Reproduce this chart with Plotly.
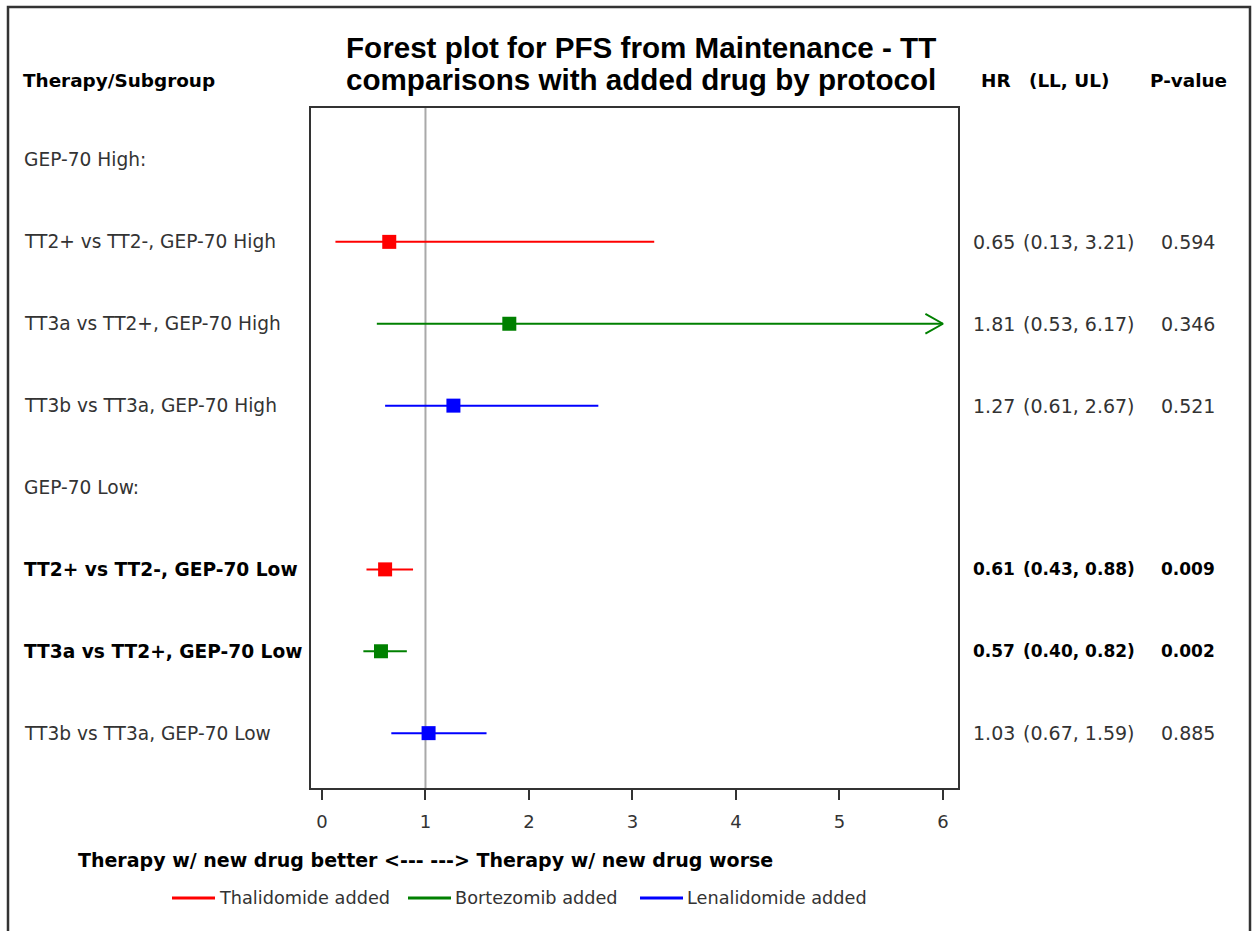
import plotly.graph_objects as go

# ---------------- data ----------------
row_labels = [
    "GEP-70 High:",
    "TT2+ vs TT2-, GEP-70 High",
    "TT3a vs TT2+, GEP-70 High",
    "TT3b vs TT3a, GEP-70 High",
    "GEP-70 Low:",
    "TT2+ vs TT2-, GEP-70 Low",
    "TT3a vs TT2+, GEP-70 Low",
    "TT3b vs TT3a, GEP-70 Low",
]
hr = [None, 0.65, 1.81, 1.27, None, 0.61, 0.57, 1.03]
ll = [None, 0.13, 0.53, 0.61, None, 0.43, 0.40, 0.67]
ul = [None, 3.21, 6.17, 2.67, None, 0.88, 0.82, 1.59]
pval = [None, "0.594", "0.346", "0.521", None, "0.009", "0.002", "0.885"]
drug = [None, "Thalidomide added", "Bortezomib added", "Lenalidomide added",
        None, "Thalidomide added", "Bortezomib added", "Lenalidomide added"]
bold = [False, False, False, False, False, True, True, False]
drugs = ["Thalidomide added", "Bortezomib added", "Lenalidomide added"]
drug_colors = {"Thalidomide added": "#FF0000", "Bortezomib added": "#008000",
               "Lenalidomide added": "#0000FF"}
x_ticks = [0, 1, 2, 3, 4, 5, 6]
x_max = 6

# ---------------- layout geometry ----------------
W, H = 1254, 931
PL, PR, PT, PB = 311, 958, 108, 788
pw, ph = PR - PL, PB - PT


def px(x):
    return (x - PL) / pw


def py(y):
    return (PB - y) / ph


FONT = "DejaVu Sans, Liberation Sans, Arial, sans-serif"
TFONT = "Liberation Sans, Arial, sans-serif"
rows = list(range(1, len(row_labels) + 1))

fig = go.Figure()

# reference line at HR = 1
fig.add_shape(type="line", xref="x", yref="paper", x0=1, x1=1, y0=0, y1=1,
              line=dict(color="#A9A9A9", width=2), layer="below")

for i, r in enumerate(rows):
    if hr[i] is None:
        continue
    c = drug_colors[drug[i]]
    hi = min(ul[i], x_max)
    fig.add_trace(go.Scatter(x=[ll[i], hi], y=[r, r], mode="lines",
                             line=dict(color=c, width=2), showlegend=False,
                             hoverinfo="skip"))
    if ul[i] > x_max:
        dx, dy = 0.17, 0.12
        fig.add_trace(go.Scatter(x=[x_max - dx, x_max, x_max - dx],
                                 y=[r - dy, r, r + dy], mode="lines",
                                 line=dict(color=c, width=2), showlegend=False,
                                 hoverinfo="skip"))
    fig.add_trace(go.Scatter(x=[hr[i]], y=[r], mode="markers",
                             marker=dict(symbol="square", size=14, color=c),
                             showlegend=False))

ann = []
shapes = []
# row labels and stats
for i, r in enumerate(rows):
    b = bold[i]
    col = "#000000" if b else "#333333"
    wrap = (lambda s: f"<b>{s}</b>") if b else (lambda s: s)
    rfs = 17 if b else 19
    ann.append(dict(x=px(22), y=r, xref="paper", yref="y", text=wrap(row_labels[i]),
                    showarrow=False, xanchor="left", yanchor="middle",
                    font=dict(size=18.6, color=col, family=FONT)))
    if hr[i] is None:
        continue
    ann.append(dict(x=px(971), y=r, xref="paper", yref="y", text=wrap(f"{hr[i]:.2f}"),
                    showarrow=False, xanchor="left", yanchor="middle",
                    font=dict(size=rfs, color=col, family=FONT)))
    ann.append(dict(x=px(1021), y=r, xref="paper", yref="y",
                    text=wrap(f"({ll[i]:.2f}, {ul[i]:.2f})"),
                    showarrow=False, xanchor="left", yanchor="middle",
                    font=dict(size=rfs, color=col, family=FONT)))
    ann.append(dict(x=px(1159), y=r, xref="paper", yref="y", text=wrap(pval[i]),
                    showarrow=False, xanchor="left", yanchor="middle",
                    font=dict(size=rfs, color=col, family=FONT)))

# headers
hdr_font = dict(size=18.4, color="#000000", family=FONT)
for txt, x in [("Therapy/Subgroup", 21), ("HR", 979), ("(LL, UL)", 1027), ("P-value", 1148)]:
    ann.append(dict(x=px(x), y=py(81), xref="paper", yref="paper", text=f"<b>{txt}</b>",
                    showarrow=False, xanchor="left", yanchor="middle", font=hdr_font))

# title (two lines)
for txt, y in [("Forest plot for PFS from Maintenance - TT", 47),
               ("comparisons with added drug by protocol", 80)]:
    ann.append(dict(x=px(344), y=py(y), xref="paper", yref="paper",
                    text=f"<b>{txt}</b>",
                    showarrow=False, xanchor="left", yanchor="middle",
                    font=dict(size=29.6, color="#000000", family=TFONT)))

# x-axis label
ann.append(dict(x=1, y=py(860), xref="x", yref="paper",
                text="<b>Therapy w/ new drug better <--- ---> Therapy w/ new drug worse</b>",
                showarrow=False, xanchor="center", yanchor="middle",
                font=dict(size=19, color="#000000", family=FONT)))

# legend (drawn as keys + labels)
legend_key_x = [172, 408, 640]
for d, lx in zip(drugs, legend_key_x):
    shapes.append(dict(type="line", xref="paper", yref="paper",
                       x0=px(lx), x1=px(lx + 43), y0=py(898), y1=py(898),
                       line=dict(color=drug_colors[d], width=3)))
    ann.append(dict(x=px(lx + 45), y=py(898), xref="paper", yref="paper", text=d,
                    showarrow=False, xanchor="left", yanchor="middle",
                    font=dict(size=17.7, color="#333333", family=FONT)))

# outer frame
shapes.append(dict(type="rect", xref="paper", yref="paper",
                   x0=px(8), x1=px(1250), y0=py(945), y1=py(7),
                   line=dict(color="#333333", width=2.5), fillcolor="rgba(0,0,0,0)"))
for s in shapes:
    fig.add_shape(**s)

fig.update_layout(
    width=W, height=H,
    margin=dict(l=PL, r=W - PR, t=PT, b=H - PB),
    paper_bgcolor="white", plot_bgcolor="white",
    annotations=ann,
    showlegend=False,
    xaxis=dict(range=[-0.106, 6.145], tickvals=x_ticks, ticktext=[str(t) for t in x_ticks],
               showgrid=False, zeroline=False, showline=True, linecolor="#333333",
               linewidth=2, mirror=True, ticks="outside", ticklen=10, tickwidth=2,
               tickcolor="#333333", ticklabelstandoff=6,
               tickfont=dict(size=18, color="#333333", family=FONT)),
    yaxis=dict(range=[8.67, 0.365], showgrid=False, zeroline=False, showticklabels=False,
               showline=True, linecolor="#333333", linewidth=2, mirror=True, ticks=""),
    font=dict(family=FONT),
)

fig.write_html("out.html")
